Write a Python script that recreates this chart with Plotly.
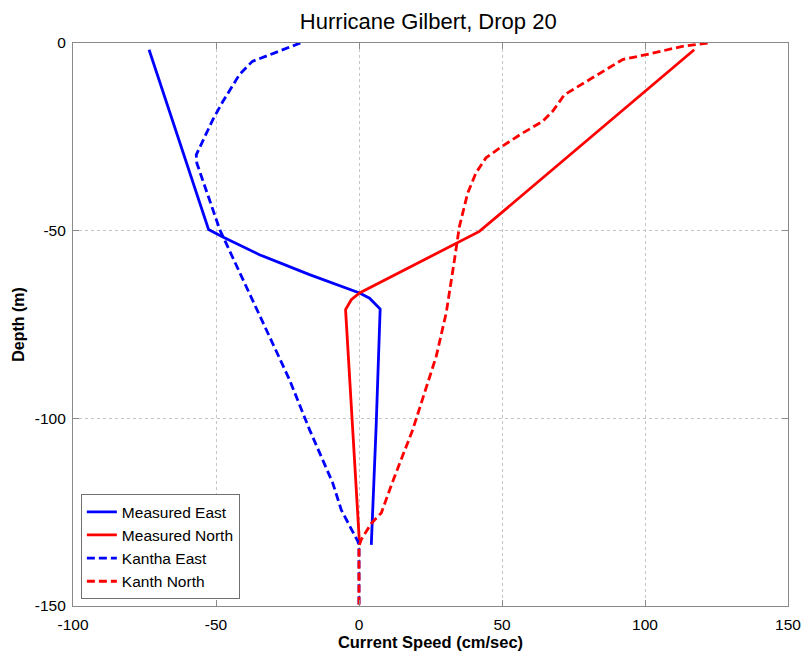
import plotly.graph_objects as go

# ---- data (speed in cm/sec, depth in m) ----
meas_east_x = [-73.4, -70.9, -52.6, -47.6, -34.8, -17.3, 0.2, 3.7, 7.4, 6.0, 4.3]
meas_east_y = [-1.8, -7.6, -49.7, -51.7, -56.4, -61.7, -66.6, -68.0, -70.9, -102.0, -133.7]

meas_north_x = [117.2, 42.1, 0.2, -2.7, -4.7, -2.2, 0.2]
meas_north_y = [-1.8, -50.2, -66.6, -68.4, -71.0, -103.0, -133.7]

kantha_east_x = [-20.5, -30.1, -37.3, -41.8, -47.6, -51.1, -56.9, -56.7, -48.7,
                 -24.3, -17.3, -9.2, -6.2, -0.4, 0.0, 0.0]
kantha_east_y = [0.0, -2.9, -4.9, -8.4, -15.6, -20.4, -29.8, -32.0, -49.7,
                 -89.7, -103.0, -117.2, -124.4, -132.8, -134.0, -150.0]

kanth_north_x = [121.9, 113.1, 100.4, 92.2, 80.5, 71.8, 67.7, 64.2, 57.2, 49.1, 44.4,
                 40.9, 38.0, 35.1, 33.4, 30.5, 27.0, 18.8, 11.8, 7.8, 4.3, 0.8, 0.0, 0.0]
kanth_north_y = [0.0, -0.9, -3.1, -4.4, -9.8, -13.8, -18.2, -20.9, -24.0, -28.0, -30.6,
                 -34.6, -40.0, -48.9, -57.7, -71.9, -83.5, -103.0, -116.8, -125.2, -128.0,
                 -132.3, -134.0, -150.0]

x_ticks = [-100, -50, 0, 50, 100, 150]
x_tick_text = ["-100", "-50", "0", "50", "100", "150"]
y_ticks = [-150, -100, -50, 0]
y_tick_text = ["-150", "-100", "-50", "0"]

BLUE = "#0000FF"
RED = "#FF0000"
LW = 2.8
DASH = "8px,4px"

fig = go.Figure()
fig.add_trace(go.Scatter(x=meas_east_x, y=meas_east_y, mode="lines", name="Measured East",
                         line=dict(color=BLUE, width=LW)))
fig.add_trace(go.Scatter(x=meas_north_x, y=meas_north_y, mode="lines", name="Measured North",
                         line=dict(color=RED, width=LW)))
fig.add_trace(go.Scatter(x=kantha_east_x, y=kantha_east_y, mode="lines", name="Kantha East",
                         line=dict(color=BLUE, width=LW, dash=DASH)))
fig.add_trace(go.Scatter(x=kanth_north_x, y=kanth_north_y, mode="lines", name="Kanth North",
                         line=dict(color=RED, width=LW, dash=DASH)))

FONT = "Liberation Sans, Arial, sans-serif"
axis_common = dict(
    showline=True, mirror="ticks", linecolor="#8a8a8a", linewidth=1.2,
    ticks="inside", ticklen=6, tickcolor="#8a8a8a",
    showgrid=True, gridcolor="#c4c4c4", griddash="dot", gridwidth=1,
    zeroline=False, automargin=False,
    tickfont=dict(family=FONT, size=15.5, color="black"),
)

fig.update_layout(
    width=805, height=656,
    margin=dict(l=73, r=17, t=43, b=50, autoexpand=False),
    paper_bgcolor="white", plot_bgcolor="white",
    font=dict(family=FONT, color="black"),
    title=dict(text="Hurricane Gilbert, Drop 20", x=0.532, xanchor="center",
               y=1 - 21 / 656, yanchor="middle", yref="container",
               font=dict(family=FONT, size=22, color="black")),
    xaxis=dict(range=[-100, 150], tickvals=x_ticks, ticktext=x_tick_text,
               title=dict(text="<b>Current Speed (cm/sec)</b>", standoff=3,
                          font=dict(family=FONT, size=16.5)),
               ticklabelstandoff=4, **axis_common),
    yaxis=dict(range=[-150, 0], tickvals=y_ticks, ticktext=y_tick_text,
               title=dict(text="<b>Depth (m)</b>", standoff=6,
                          font=dict(family=FONT, size=16)),
               ticklabelstandoff=3, **axis_common),
    legend=dict(x=0.011, y=0.012, xanchor="left", yanchor="bottom",
                bgcolor="white", bordercolor="#707070", borderwidth=1,
                font=dict(family=FONT, size=15.5, color="black"),
                itemwidth=30, tracegroupgap=0),
    showlegend=True,
)

fig.write_html("out.html")
